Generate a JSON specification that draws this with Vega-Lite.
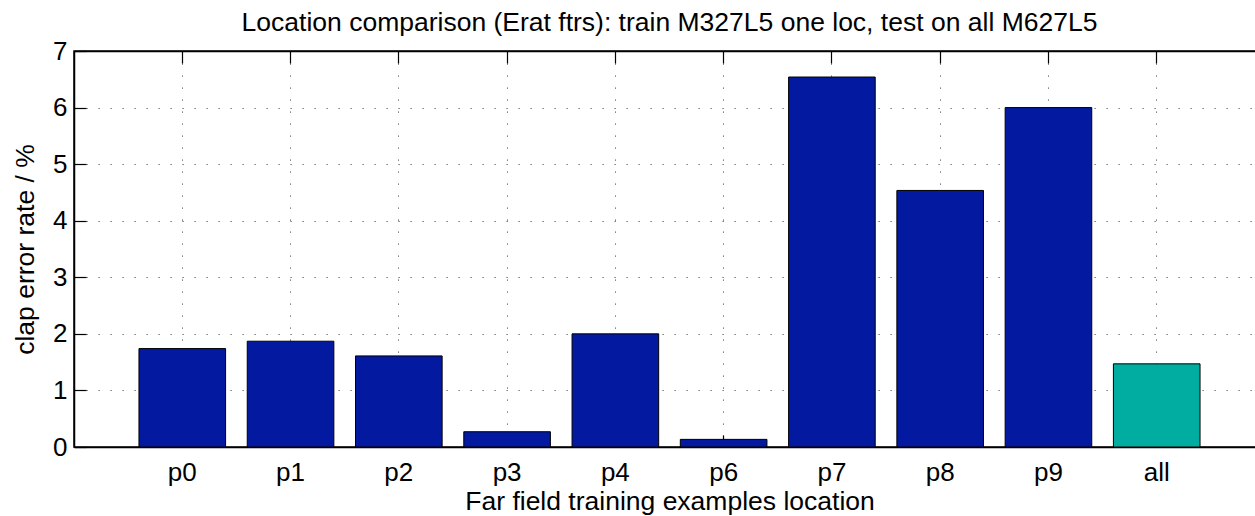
{
  "$schema": "https://vega.github.io/schema/vega-lite/v6.json",
  "width": 1191,
  "height": 396,
  "autosize": {"type": "none"},
  "padding": {"left": 74, "top": 51, "right": 0, "bottom": 69},
  "background": "white",
  "title": {
    "text": "Location comparison (Erat ftrs): train M327L5 one loc, test on all M627L5",
    "font": "Liberation Sans",
    "fontSize": 26.5,
    "fontWeight": "normal",
    "color": "black",
    "baseline": "alphabetic",
    "offset": -19
  },
  "data": {
    "values": [
      {"loc": "p0", "rate": 1.74, "group": "single"},
      {"loc": "p1", "rate": 1.87, "group": "single"},
      {"loc": "p2", "rate": 1.61, "group": "single"},
      {"loc": "p3", "rate": 0.27, "group": "single"},
      {"loc": "p4", "rate": 2.0, "group": "single"},
      {"loc": "p6", "rate": 0.135, "group": "single"},
      {"loc": "p7", "rate": 6.54, "group": "single"},
      {"loc": "p8", "rate": 4.535, "group": "single"},
      {"loc": "p9", "rate": 6.0, "group": "single"},
      {"loc": "all", "rate": 1.47, "group": "all"}
    ]
  },
  "layer": [
    {
      "mark": {"type": "bar", "stroke": "black", "strokeWidth": 1},
      "encoding": {
        "x": {
          "field": "loc",
          "type": "nominal",
          "sort": null,
          "scale": {"paddingInner": 0.2, "paddingOuter": 0.6},
          "axis": {
            "orient": "bottom",
            "title": "Far field training examples location",
            "labelAngle": 0,
            "bandPosition": 0.5,
            "tickSize": -12,
            "labelPadding": 24,
            "titlePadding": 3,
            "grid": true,
            "gridDash": [1.2, 10.8],
            "gridColor": "#555555",
            "gridWidth": 1
          }
        },
        "y": {
          "field": "rate",
          "type": "quantitative",
          "scale": {"domain": [0, 7], "nice": false},
          "axis": {
            "title": "clap error rate / %",
            "values": [0, 1, 2, 3, 4, 5, 6, 7],
            "format": "d",
            "tickSize": -12,
            "labelPadding": 19,
            "titlePadding": 13,
            "grid": true,
            "gridDash": [1.2, 10.8],
            "gridColor": "#555555",
            "gridWidth": 1
          }
        },
        "color": {
          "field": "group",
          "type": "nominal",
          "scale": {"domain": ["single", "all"], "range": ["#0219A0", "#00ADA0"]},
          "legend": null
        }
      }
    },
    {
      "mark": {"type": "bar", "opacity": 0},
      "encoding": {
        "x": {
          "field": "loc",
          "type": "nominal",
          "sort": null,
          "axis": {
            "orient": "top",
            "labels": false,
            "title": null,
            "grid": false,
            "bandPosition": 0.5,
            "tickSize": -12
          }
        },
        "y": {"field": "rate", "type": "quantitative"}
      }
    }
  ],
  "resolve": {"axis": {"x": "independent"}},
  "config": {
    "view": {"stroke": "black", "strokeWidth": 1.5},
    "font": "Liberation Sans",
    "axis": {
      "labelFont": "Liberation Sans",
      "titleFont": "Liberation Sans",
      "labelFontSize": 26,
      "titleFontSize": 26.5,
      "titleFontWeight": "normal",
      "labelColor": "black",
      "titleColor": "black",
      "domainColor": "black",
      "domainWidth": 1.5,
      "tickColor": "black",
      "tickWidth": 1.2
    }
  }
}
